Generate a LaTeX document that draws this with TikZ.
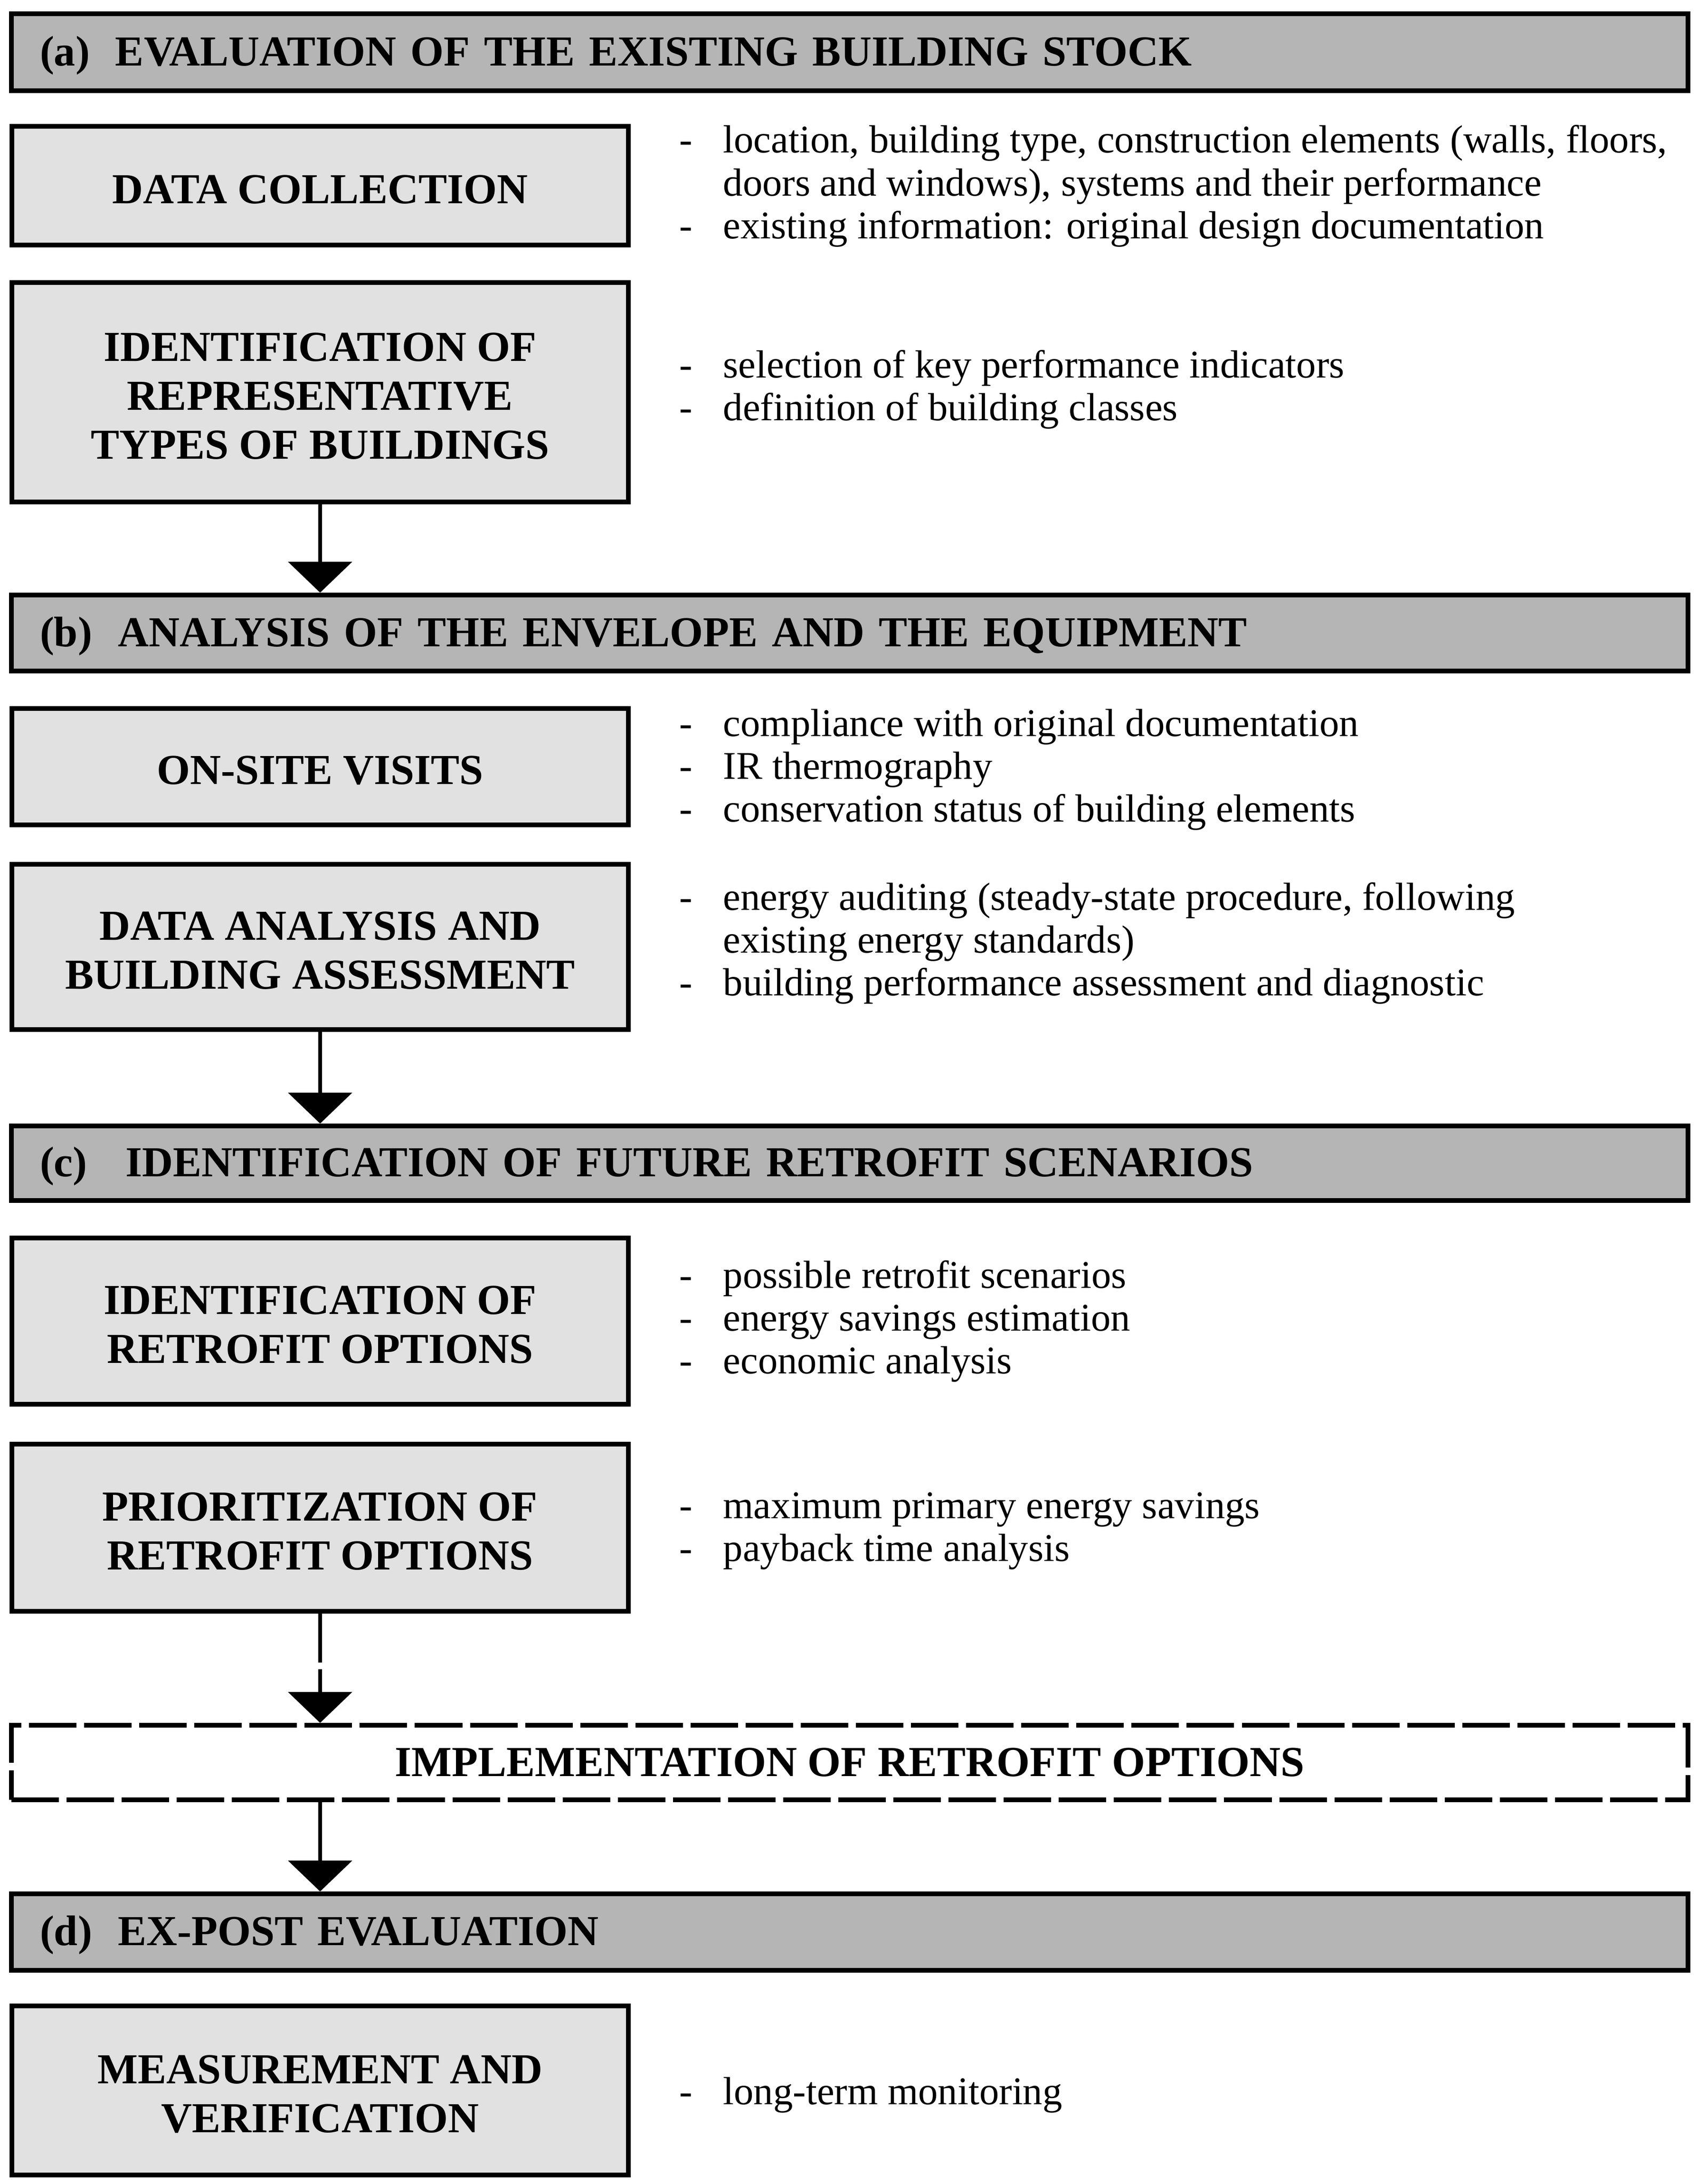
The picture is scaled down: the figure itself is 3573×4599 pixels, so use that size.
\documentclass[tikz,border=0pt]{standalone}
\usepackage{fontspec}
\setmainfont{Liberation Serif}
\usepackage{array}
\usetikzlibrary{arrows.meta}
\definecolor{hdrgray}{RGB}{181,181,181}
\definecolor{boxgray}{RGB}{225,225,225}
\newcommand{\labfont}{\fontsize{25.6}{29.3}\selectfont\bfseries}
\newcommand{\bulfont}{\fontsize{23.5}{25.6}\selectfont}
\newcommand{\lift}{\rule{0pt}{21.5pt}}
\newenvironment{bulls}{\bulfont\begin{tabular}{@{}p{0.92cm}@{}l@{}}}{\end{tabular}}
\begin{document}
\begin{tikzpicture}[x=0.01cm,y=-0.01cm,
  hdr/.style={draw, line width=2.85pt, fill=hdrgray, rectangle, inner xsep=0.6cm, inner ysep=0pt,
    minimum width=35.28cm, text width=34.08cm, align=left, font=\labfont},
  implbox/.style={draw, line width=2.85pt, dash pattern=on 1cm off 0.16cm, fill=white, rectangle,
    inner sep=0pt, minimum width=35.28cm, align=center, font=\labfont},
  stagebox/.style={draw, line width=2.85pt, fill=boxgray, rectangle, minimum width=12.98cm,
    inner sep=0pt, align=center, font=\labfont},
  bul/.style={anchor=west, inner sep=0pt},
  conn/.style={line width=2.5pt, -{Triangle[width=38pt,length=18.5pt]}},
  dconn/.style={conn, dash pattern=on 1.03cm off 0.14cm}
]
\useasboundingbox (0,0) rectangle (3573,4599);
\fill[white] (0,0) rectangle (3573,4599);

% (a)
\node[hdr, minimum height=1.62cm] (ha) at (1789,110) {\lift(a)\hspace{0.6em}EVALUATION OF THE EXISTING BUILDING STOCK};
\node[stagebox, minimum height=2.5cm] (dc) at (674,391) {\lift DATA COLLECTION};
\node[bul] (dcb) at (1430,394) {\begin{bulls}
-&location, building type, construction elements (walls, floors,\\
&doors and windows), systems and their performance\\
-&existing information: original design documentation
\end{bulls}};
\node[stagebox, minimum height=4.62cm] (id) at (674,826) {\lift IDENTIFICATION OF\\REPRESENTATIVE\\TYPES OF BUILDINGS};
\node[bul] (idb) at (1430,822) {\begin{bulls}
-&selection of key performance indicators\\
-&definition of building classes
\end{bulls}};

% (b)
\node[hdr, minimum height=1.6cm] (hb) at (1789,1333) {\lift(b)\hspace{0.6em}ANALYSIS OF THE ENVELOPE AND THE EQUIPMENT};
\node[stagebox, minimum height=2.45cm] (os) at (674,1614.5) {\lift ON-SITE VISITS};
\node[bul] (osb) at (1430,1622) {\begin{bulls}
-&compliance with original documentation\\
-&IR thermography\\
-&conservation status of building elements
\end{bulls}};
\node[stagebox, minimum height=3.48cm] (da) at (674,1994) {\lift DATA ANALYSIS AND\\BUILDING ASSESSMENT};
\node[bul] (dab) at (1430,1988) {\begin{bulls}
-&energy auditing (steady-state procedure, following\\
&existing energy standards)\\
-&building performance assessment and diagnostic
\end{bulls}};

% (c)
\node[hdr, minimum height=1.57cm] (hc) at (1789,2449.5) {\lift(c)\hspace{0.9em}IDENTIFICATION OF FUTURE RETROFIT SCENARIOS};
\node[stagebox, minimum height=3.5cm] (ir) at (674,2782) {\lift IDENTIFICATION OF\\RETROFIT OPTIONS};
\node[bul] (irb) at (1430,2784) {\begin{bulls}
-&possible retrofit scenarios\\
-&energy savings estimation\\
-&economic analysis
\end{bulls}};
\node[stagebox, minimum height=3.52cm] (pr) at (674,3217) {\lift PRIORITIZATION OF\\RETROFIT OPTIONS};
\node[bul] (prb) at (1430,3224) {\begin{bulls}
-&maximum primary energy savings\\
-&payback time analysis
\end{bulls}};

% implementation
\node[implbox, minimum height=1.57cm] (impl) at (1789,3711.5) {IMPLEMENTATION OF RETROFIT OPTIONS};

% (d)
\node[hdr, minimum height=1.61cm] (hd) at (1789,4068.5) {\lift(d)\hspace{0.6em}EX-POST EVALUATION};
\node[stagebox, minimum height=3.56cm] (mv) at (674,4402) {\lift MEASUREMENT AND\\VERIFICATION};
\node[bul] (mvb) at (1430,4413) {\begin{bulls}
-&long-term monitoring
\end{bulls}};

% connectors
\draw[conn] (id.south) -- (hb.north -| id.south);
\draw[conn] (da.south) -- (hc.north -| da.south);
\draw[dconn] (pr.south) -- (impl.north -| pr.south);
\draw[conn] (impl.south -| pr.south) -- (hd.north -| pr.south);
\end{tikzpicture}
\end{document}
